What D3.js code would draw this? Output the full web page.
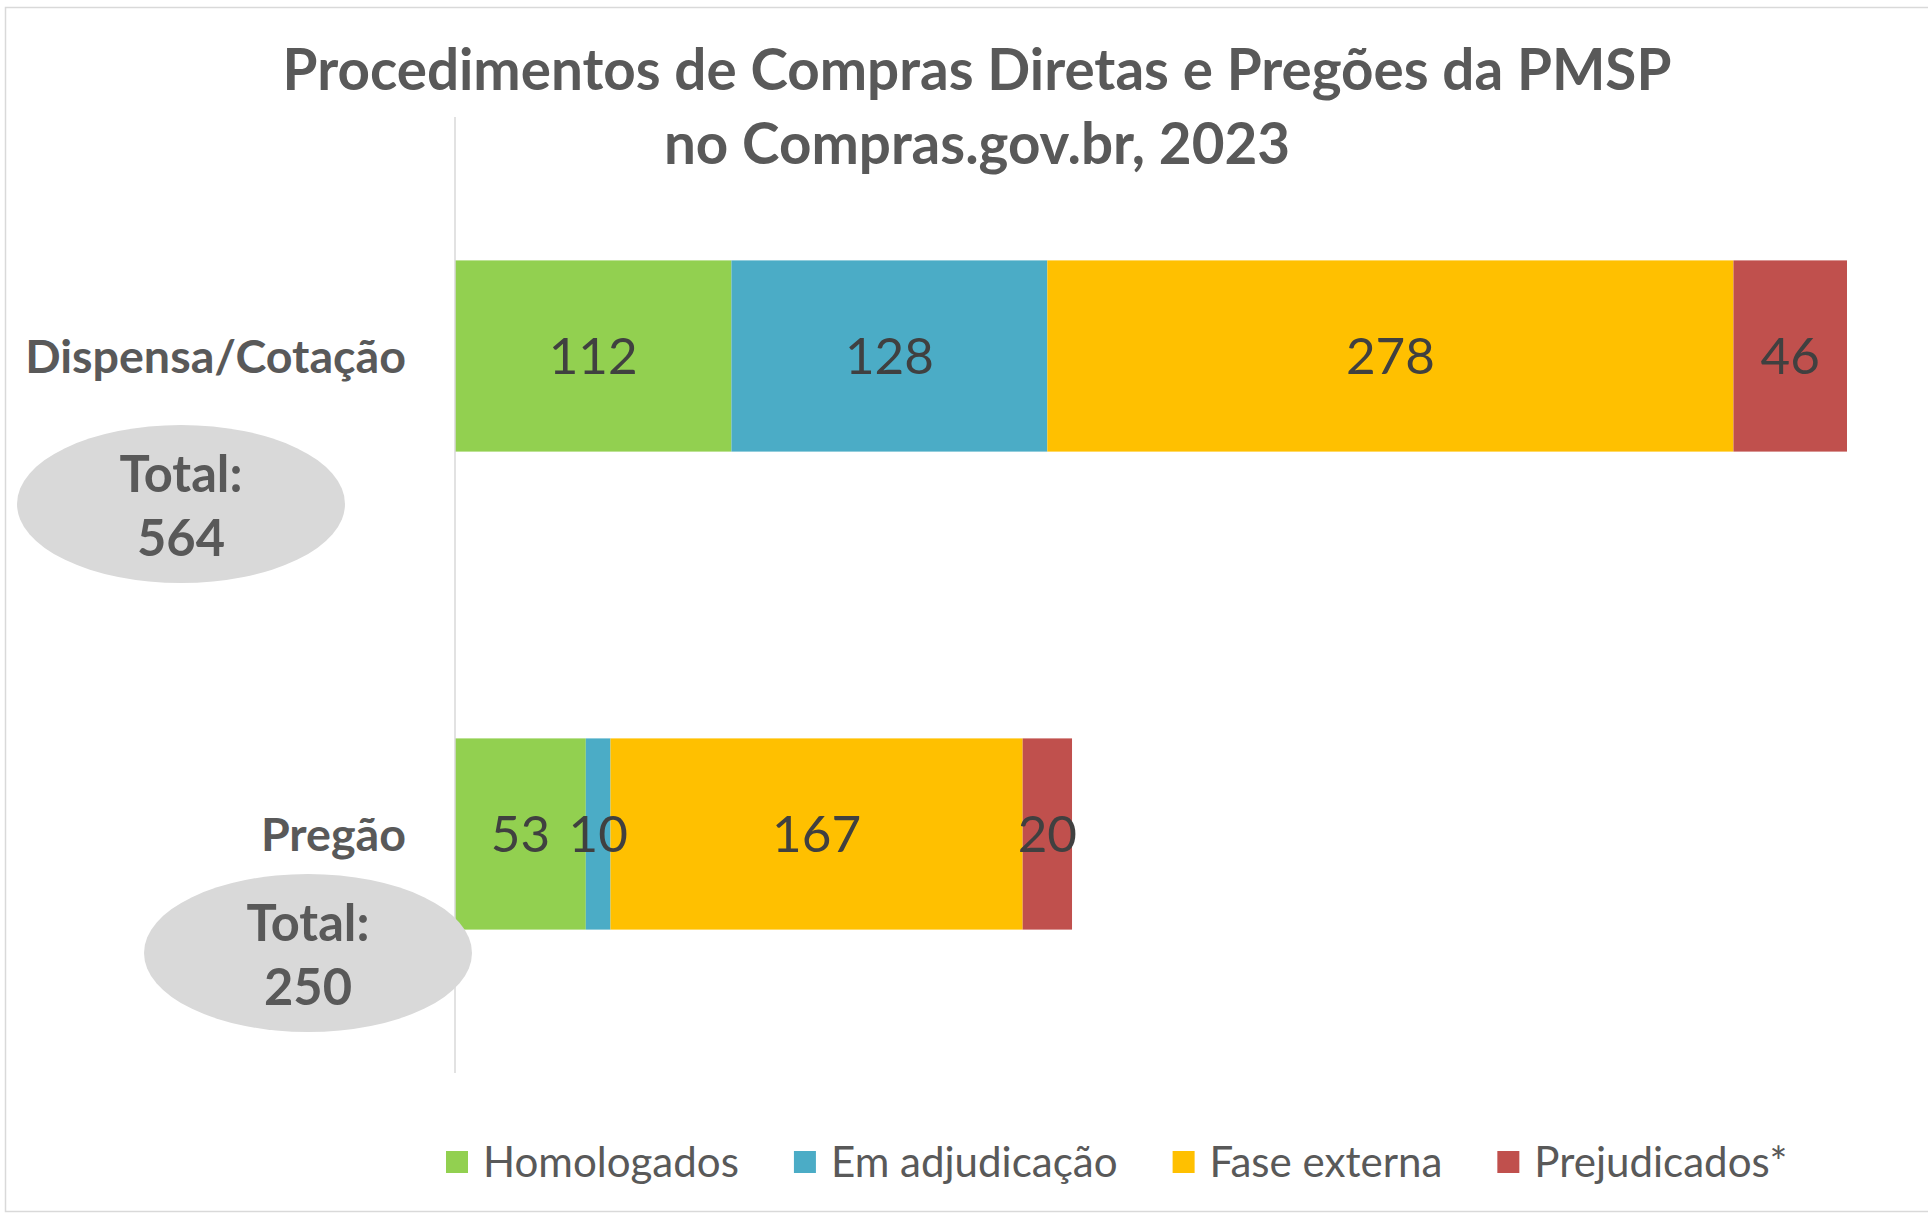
<!DOCTYPE html>
<html>
<head>
<meta charset="utf-8">
<script src="https://cdn.jsdelivr.net/npm/d3@7"></script>
<style>
  body { margin: 0; background: #fff; }
  svg { display: block; }
</style>
</head>
<body>
<div id="chart"></div>
<script>
// Données
const categories = ["Dispensa/Cotação", "Pregão"];
const seriesNames = ["Homologados", "Em adjudicação", "Fase externa", "Prejudicados*"];
const homologados = [112, 53];
const emAdjudicacao = [128, 10];
const faseExterna = [278, 167];
const prejudicados = [46, 20];
const totals = [564, 250];
const titleLines = ["Procedimentos de Compras Diretas e Pregões da PMSP", "no Compras.gov.br, 2023"];

const colors = ["#92D050", "#4BACC6", "#FFC000", "#C0504D"];
const font = "Lato, 'Open Sans', sans-serif";

const width = 1928, height = 1215;

const svg = d3.select("#chart").append("svg")
    .attr("width", width)
    .attr("height", height)
    .style("font-family", font);

// cadre
svg.append("rect")
    .attr("x", 5.5).attr("y", 7.5)
    .attr("width", width + 10).attr("height", 1204)
    .attr("fill", "#fff").attr("stroke", "#d9d9d9").attr("stroke-width", 1.5);

// taille de police pour une largeur donnée
function fitSize(text, target, weight) {
    const t = svg.append("text").style("font-size", "100px").style("font-weight", weight).text(text);
    const w = t.node().getComputedTextLength();
    t.remove();
    return 100 * target / w;
}

const rows = categories.map((c, i) => ({
    cat: c,
    values: [homologados[i], emAdjudicacao[i], faseExterna[i], prejudicados[i]]
}));

const x = d3.scaleLinear().domain([0, d3.max(totals)]).range([455, 1847]);
const y = d3.scaleBand().domain(categories).range([117, 1073]).paddingInner(0.6).paddingOuter(0.3);

// segments empilés
const segs = [];
rows.forEach(r => {
    let acc = 0;
    r.values.forEach((v, k) => {
        segs.push({cat: r.cat, k: k, x0: acc, x1: acc + v, v: v});
        acc += v;
    });
});

svg.append("g").selectAll("rect")
    .data(segs)
    .enter().append("rect")
    .attr("x", d => x(d.x0))
    .attr("y", d => y(d.cat))
    .attr("width", d => x(d.x1) - x(d.x0))
    .attr("height", y.bandwidth())
    .attr("fill", d => colors[d.k]);

// axe vertical
svg.append("line")
    .attr("x1", x(0)).attr("x2", x(0))
    .attr("y1", 117).attr("y2", 1073)
    .attr("stroke", "#d9d9d9").attr("stroke-width", 1.5);

// étiquettes de valeurs
const valSize = fitSize("112", 89, 400);
svg.append("g").selectAll("text")
    .data(segs)
    .enter().append("text")
    .attr("x", d => (x(d.x0) + x(d.x1)) / 2)
    .attr("y", d => y(d.cat) + y.bandwidth() / 2)
    .attr("dy", "0.36em")
    .attr("text-anchor", "middle")
    .style("font-size", valSize + "px")
    .attr("fill", "#404040")
    .text(d => d.v);

// catégories
const catSize = fitSize("Dispensa/Cotação", 381, 700);
svg.append("g").selectAll("text")
    .data(categories)
    .enter().append("text")
    .attr("x", 406)
    .attr("y", d => y(d) + y.bandwidth() / 2)
    .attr("dy", "0.36em")
    .attr("text-anchor", "end")
    .style("font-size", catSize + "px")
    .style("font-weight", 700)
    .attr("fill", "#595959")
    .text(d => d);

// bulles de total
const totSize = fitSize("Total:", 123, 700);
const bubbles = [
    {cx: 181, cy: 504, total: totals[0]},
    {cx: 308, cy: 953, total: totals[1]}
];
const bg = svg.append("g").selectAll("g")
    .data(bubbles)
    .enter().append("g")
    .attr("transform", d => `translate(${d.cx},${d.cy})`);
bg.append("ellipse")
    .attr("rx", 164).attr("ry", 79)
    .attr("fill", "#d9d9d9");
bg.append("text")
    .attr("y", -30).attr("dy", "0.36em")
    .attr("text-anchor", "middle")
    .style("font-size", totSize + "px").style("font-weight", 700)
    .attr("fill", "#595959")
    .text("Total:");
bg.append("text")
    .attr("y", 34).attr("dy", "0.36em")
    .attr("text-anchor", "middle")
    .style("font-size", totSize + "px").style("font-weight", 700)
    .attr("fill", "#595959")
    .text(d => d.total);

// titre
const titleSize = fitSize(titleLines[0], 1389, 700);
svg.append("g").selectAll("text")
    .data(titleLines)
    .enter().append("text")
    .attr("x", 977)
    .attr("y", (d, i) => 70 + i * 74)
    .attr("dy", "0.36em")
    .attr("text-anchor", "middle")
    .style("font-size", titleSize + "px")
    .style("font-weight", 700)
    .attr("fill", "#595959")
    .text(d => d);

// légende
const legSize = fitSize("Homologados", 256, 400);
const legend = svg.append("g").attr("transform", "translate(446,1162)");
let lx = 0;
seriesNames.forEach((name, k) => {
    const g = legend.append("g").attr("transform", `translate(${lx},0)`);
    g.append("rect")
        .attr("x", 0).attr("y", -11)
        .attr("width", 22).attr("height", 22)
        .attr("fill", colors[k]);
    const t = g.append("text")
        .attr("x", 37)
        .attr("dy", "0.36em")
        .style("font-size", legSize + "px")
        .attr("fill", "#595959")
        .text(name);
    lx += 37 + t.node().getComputedTextLength() + 55;
});
</script>
</body>
</html>
